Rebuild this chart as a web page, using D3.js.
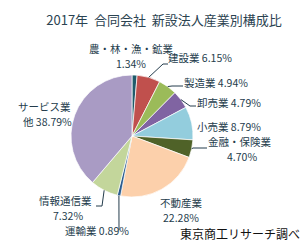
<!DOCTYPE html>
<html>
<head>
<meta charset="utf-8">
<script src="https://cdn.jsdelivr.net/npm/d3@7"></script>
<style>
  html, body { margin: 0; padding: 0; background: #fff; }
  svg { display: block; }
  text { font-family: "Noto Sans CJK JP", sans-serif; }
</style>
</head>
<body>
<div id="chart"></div>
<script>
// data
var categories = ["農・林・漁・鉱業", "建設業", "製造業", "卸売業", "小売業",
    "金融・保険業", "不動産業", "運輸業", "情報通信業", "サービス業他"];
var shares = [1.34, 6.15, 4.94, 4.79, 8.79, 4.70, 22.28, 0.89, 7.32, 38.79];

var sliceColors = ["#1f5b6b", "#c0504d", "#9bbb59", "#8064a2", "#93cddd",
    "#4f6228", "#fcd0ab", "#2a5c8f", "#c3d69b", "#a99bc4"];

var title = "2017年  合同会社  新設法人産業別構成比";
var source = "東京商工リサーチ調べ";

// label layout: text lines, where they sit, and the leader bend points
var labelLayout = [
    { lines: ["農・林・漁・鉱業", "1.34%"], x: 131, y: 53, gap: 15, anchor: "middle", dx: [0, 0] },
    { lines: ["建設業 6.15%"], x: 168, y: 62, anchor: "start", dx: [0], leader: [[163, 64], [168, 64]] },
    { lines: ["製造業 4.94%"], x: 184, y: 87, anchor: "start", dx: [0], leader: [[172, 86], [183, 86]] },
    { lines: ["卸売業 4.79%"], x: 197, y: 107, anchor: "start", dx: [0], leader: [[190, 106], [196, 106]] },
    { lines: ["小売業 8.79%"], x: 197, y: 131, anchor: "start", dx: [0] },
    { lines: ["金融・保険業", "4.70%"], x: 208, y: 146, gap: 15, anchor: "start", dx: [0, 19], leader: [[193, 148], [207, 148]] },
    { lines: ["不動産業", "22.28%"], x: 160, y: 207, gap: 15, anchor: "start", dx: [0, 3] },
    { lines: ["運輸業 0.89%"], x: 65, y: 235, anchor: "start", dx: [0], leader: [[119, 230]] },
    { lines: ["情報通信業", "7.32%"], x: 39, y: 205, gap: 15, anchor: "start", dx: [0, 14], leader: [[102, 206], [96, 206]] },
    { lines: ["サービス業", "他 38.79%"], x: 18, y: 111, gap: 15, anchor: "start", dx: [0, 5] }
];

var width = 308, height = 246;
var cx = 132, cy = 136, radius = 61;

var svg = d3.select("#chart").append("svg")
    .attr("width", width)
    .attr("height", height);

var data = categories.map(function (c, i) {
    return { label: c, value: shares[i], color: sliceColors[i], layout: labelLayout[i] };
});

var pie = d3.pie()
    .sort(null)
    .value(function (d) { return d.value; });

var arc = d3.arc()
    .innerRadius(0)
    .outerRadius(radius);

var g = svg.append("g")
    .attr("transform", "translate(" + cx + "," + cy + ")");

var arcs = pie(data);

g.selectAll(".slice")
    .data(arcs)
    .enter()
    .append("path")
    .attr("class", "slice")
    .attr("d", arc)
    .attr("fill", function (d) { return d.data.color; })
    .attr("stroke", "#fff")
    .attr("stroke-width", 0.7);

// leader lines start on the rim at the slice's middle angle
var line = d3.line();
svg.selectAll(".leader")
    .data(arcs.filter(function (d) { return d.data.layout.leader; }))
    .enter()
    .append("path")
    .attr("class", "leader")
    .attr("fill", "none")
    .attr("stroke", "#243c4c")
    .attr("stroke-width", 1)
    .attr("d", function (d) {
        var a = (d.startAngle + d.endAngle) / 2;
        var start = [cx + radius * Math.sin(a), cy - radius * Math.cos(a)];
        return line([start].concat(d.data.layout.leader));
    });

var labels = svg.selectAll(".label")
    .data(arcs)
    .enter()
    .append("text")
    .attr("class", "label")
    .attr("fill", "#243c4c")
    .attr("font-size", "10.5px")
    .attr("text-anchor", function (d) { return d.data.layout.anchor; });

labels.selectAll("tspan")
    .data(function (d) {
        var l = d.data.layout;
        return l.lines.map(function (t, i) {
            return { text: t, x: l.x + l.dx[i], y: l.y + i * (l.gap || 14) };
        });
    })
    .enter()
    .append("tspan")
    .attr("x", function (d) { return d.x; })
    .attr("y", function (d) { return d.y; })
    .text(function (d) { return d.text; });

svg.append("text")
    .attr("x", 164)
    .attr("y", 25)
    .attr("text-anchor", "middle")
    .attr("font-size", "13px")
    .attr("fill", "#2b4351")
    .attr("xml:space", "preserve")
    .style("white-space", "pre")
    .text(title);

svg.append("text")
    .attr("x", 300)
    .attr("y", 239)
    .attr("text-anchor", "end")
    .attr("font-size", "12px")
    .attr("fill", "#111")
    .text(source);
</script>
</body>
</html>
